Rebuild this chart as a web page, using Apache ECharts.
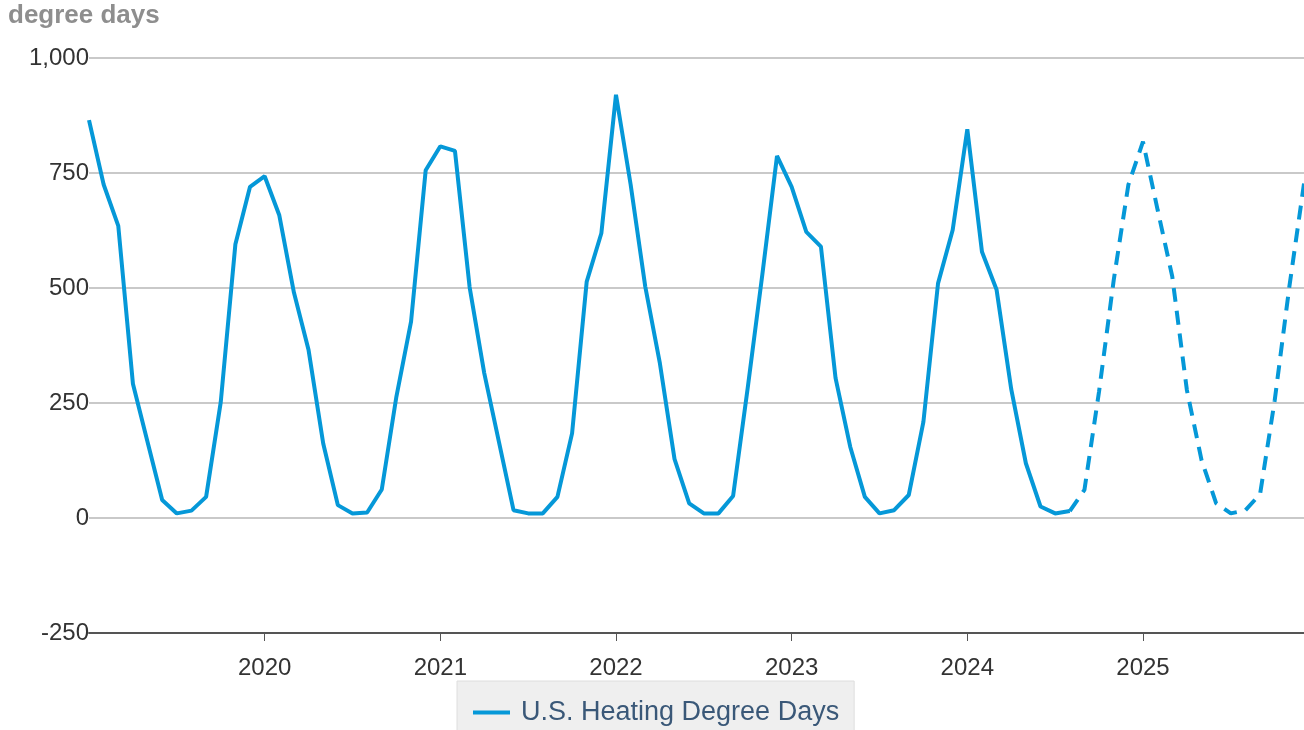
<!DOCTYPE html>
<html>
<head>
<meta charset="utf-8">
<style>
  html, body { margin: 0; padding: 0; background: #ffffff; }
  #chart { width: 1304px; height: 730px; }
</style>
<script src="https://cdn.jsdelivr.net/npm/echarts@6/dist/echarts.min.js"></script>
</head>
<body>
<div id="chart"></div>
<script>
// Monthly U.S. heating degree days, January 2019 – December 2025
const years = [2019, 2020, 2021, 2022, 2023, 2024, 2025];
const monthLabels = ['01', '02', '03', '04', '05', '06', '07', '08', '09', '10', '11', '12'];

// Observed values, Jan 2019 – Aug 2024
const observed = [
  865, 725, 635, 292, 165, 39, 10, 16, 46, 252, 595, 720,   // 2019
  743, 658, 490, 365, 162, 28, 10, 12, 62, 264, 427, 756,   // 2020
  808, 798, 502, 315, 166, 17, 10, 10, 46, 184, 514, 619,   // 2021
  920, 725, 503, 336, 128, 32, 10, 10, 48, 283, 530, 787,   // 2022
  720, 622, 590, 304, 155, 46, 10, 17, 50, 209, 510, 626,   // 2023
  845, 579, 496, 280, 119, 25, 10, 15                        // 2024 (to Aug)
];

// Forecast values, Aug 2024 – Dec 2025 (starts on the last observed month)
const forecast = [
  15, 61, 275, 517, 724,                                     // Aug–Dec 2024
  818, 670, 525, 278, 126, 32, 10, 17, 52, 256, 503, 727     // 2025
];

const yTicks = { min: -250, max: 1000, step: 250 };
const seriesName = 'U.S. Heating Degree Days';
const yAxisTitle = 'degree days';

const categories = [];
years.forEach(y => monthLabels.forEach(m => categories.push(y + '-' + m)));

const observedData = categories.map((c, i) => (i < observed.length ? observed[i] : null));
const forecastStart = observed.length - 1;
const forecastData = categories.map((c, i) =>
  (i >= forecastStart && i - forecastStart < forecast.length) ? forecast[i - forecastStart] : null);

// Year marks on each January after the first year
const isYearMark = (idx) => {
  const c = categories[idx];
  return c.endsWith('-01') && idx > 0;
};

const FONT = "'Liberation Sans', Arial, Helvetica, sans-serif";
const LINE_COLOR = '#0598d8';

const chart = echarts.init(document.getElementById('chart'), null, { renderer: 'canvas' });

chart.setOption({
  animation: false,
  backgroundColor: '#ffffff',
  title: {
    text: yAxisTitle,
    left: 8,
    top: 3,
    padding: 0,
    textStyle: { fontFamily: FONT, fontSize: 26, fontWeight: 'bold', color: '#8e8e8e' }
  },
  grid: { left: 89, right: 0, top: 58, bottom: 97, containLabel: false },
  legend: {
    data: [seriesName],
    left: 457,
    top: 681,
    padding: [18, 15, 18, 16],
    backgroundColor: '#efefef',
    borderColor: '#dedede',
    borderWidth: 1,
    borderRadius: 0,
    icon: 'rect',
    itemWidth: 37,
    itemHeight: 4,
    itemGap: 10,
    textStyle: { fontFamily: FONT, fontSize: 27, color: '#3a5878', padding: [0, 0, 0, 6] }
  },
  xAxis: {
    type: 'category',
    data: categories,
    boundaryGap: false,
    axisLine: { onZero: false, lineStyle: { color: '#555555', width: 2 } },
    axisTick: {
      show: true,
      interval: (idx) => isYearMark(idx),
      length: 8,
      lineStyle: { color: '#555555', width: 1 }
    },
    axisLabel: {
      interval: (idx) => isYearMark(idx),
      formatter: (v) => v.slice(0, 4),
      fontFamily: FONT,
      fontSize: 24,
      color: '#333333',
      margin: 23
    },
    splitLine: { show: false }
  },
  yAxis: {
    type: 'value',
    min: yTicks.min,
    max: yTicks.max,
    interval: yTicks.step,
    axisLine: { show: false },
    axisTick: { show: false },
    axisLabel: {
      formatter: (v) => v.toLocaleString('en-US'),
      fontFamily: FONT,
      fontSize: 24,
      color: '#333333',
      margin: 0,
      padding: [9, 0, 0, 0]
    },
    splitLine: { show: true, lineStyle: { color: '#c9c9c9', width: 2 } }
  },
  series: [
    {
      name: seriesName,
      type: 'line',
      data: observedData,
      showSymbol: false,
      symbol: 'none',
      color: LINE_COLOR,
      lineStyle: { color: LINE_COLOR, width: 4, type: 'solid' },
      z: 3
    },
    {
      name: seriesName,
      type: 'line',
      data: forecastData,
      showSymbol: false,
      symbol: 'none',
      color: LINE_COLOR,
      lineStyle: { color: LINE_COLOR, width: 4, type: [14, 9] },
      z: 3
    }
  ]
});
</script>
</body>
</html>
